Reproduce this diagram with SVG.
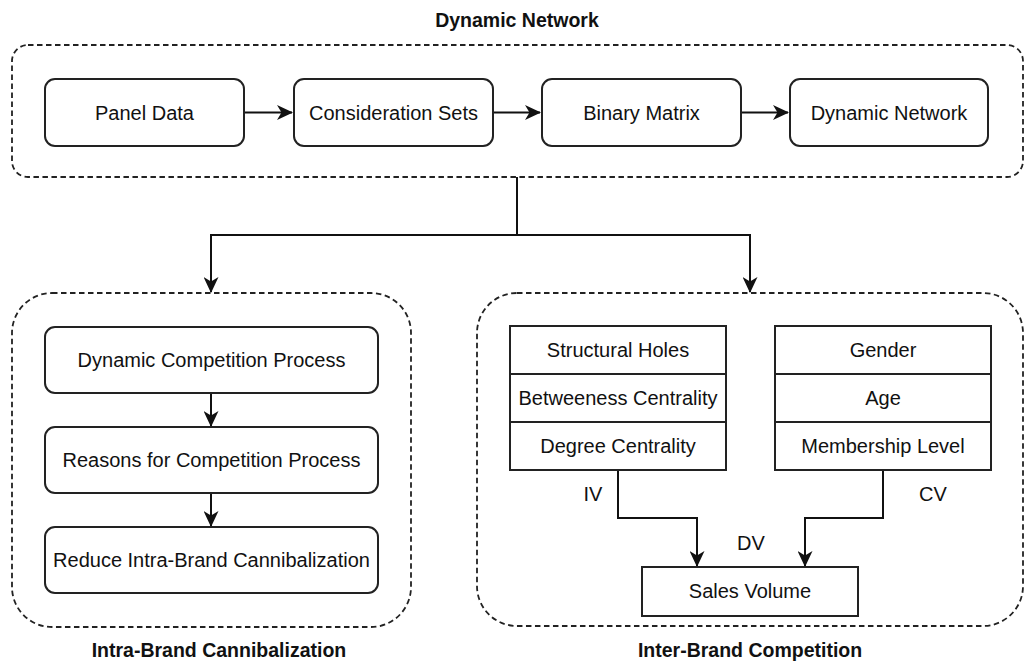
<svg xmlns="http://www.w3.org/2000/svg" width="1026" height="661" viewBox="0 0 1026 661">
<style>
text{font-family:"Liberation Sans",Arial,Helvetica,sans-serif;fill:#111;font-size:20px;text-anchor:middle}
.title{font-weight:bold;font-size:19.5px}
.cont{fill:none;stroke:#222;stroke-width:1.8;stroke-dasharray:5.5 3.5}
.box{fill:#fff;stroke:#222;stroke-width:2}
.conn{fill:none;stroke:#111;stroke-width:2}
</style>
<defs>
<marker id="arr" markerUnits="userSpaceOnUse" markerWidth="17" markerHeight="15" viewBox="0 0 17 15" refX="15" refY="7.5" orient="auto">
<path d="M0,0 L16,7.5 L0,15 L4.5,7.5 z" fill="#111"/>
</marker>
</defs>
<rect width="1026" height="661" fill="#fff"/>

<g id="container-dynamic-network">
<rect class="cont" x="12" y="45" width="1011" height="132" rx="16"/>
<text class="title" x="517" y="27">Dynamic Network</text>
</g>
<g id="container-intra">
<rect class="cont" x="12" y="293" width="399" height="334" rx="40"/>
<text class="title" x="219" y="657">Intra-Brand Cannibalization</text>
</g>
<g id="container-inter">
<rect class="cont" x="477" y="293" width="546" height="333" rx="40"/>
<text class="title" x="750" y="657">Inter-Brand Competition</text>
</g>

<g id="connectors">
<path class="conn" d="M244,112.5 H292" marker-end="url(#arr)"/>
<path class="conn" d="M493,112.5 H540" marker-end="url(#arr)"/>
<path class="conn" d="M741,112.5 H788" marker-end="url(#arr)"/>
<path class="conn" d="M517,177 V235 H211 V292" marker-end="url(#arr)"/>
<path class="conn" d="M517,235 H750 V292" marker-end="url(#arr)"/>
<path class="conn" d="M211,393 V426" marker-end="url(#arr)"/>
<path class="conn" d="M211,493 V526" marker-end="url(#arr)"/>
<path class="conn" d="M618,470 V518 H697 V566" marker-end="url(#arr)"/>
<path class="conn" d="M883,470 V518 H805 V566" marker-end="url(#arr)"/>
<text x="593" y="501">IV</text>
<text x="933" y="501">CV</text>
<text x="751" y="550">DV</text>
</g>

<g id="panel-data">
<rect class="box" x="45" y="79" width="199" height="67" rx="10"/>
<text x="144.5" y="119.5">Panel Data</text>
</g>
<g id="consideration-sets">
<rect class="box" x="294" y="79" width="199" height="67" rx="10"/>
<text x="393.5" y="119.5">Consideration Sets</text>
</g>
<g id="binary-matrix">
<rect class="box" x="542" y="79" width="199" height="67" rx="10"/>
<text x="641.5" y="119.5">Binary Matrix</text>
</g>
<g id="dynamic-network">
<rect class="box" x="790" y="79" width="198" height="67" rx="10"/>
<text x="889" y="119.5">Dynamic Network</text>
</g>

<g id="dynamic-competition-process">
<rect class="box" x="45" y="327" width="333" height="66" rx="10"/>
<text x="211.5" y="367">Dynamic Competition Process</text>
</g>
<g id="reasons-for-competition-process">
<rect class="box" x="45" y="427" width="333" height="66" rx="10"/>
<text x="211.5" y="467">Reasons for Competition Process</text>
</g>
<g id="reduce-intra-brand-cannibalization">
<rect class="box" x="45" y="527" width="333" height="66" rx="10"/>
<text x="211.5" y="567">Reduce Intra-Brand Cannibalization</text>
</g>

<g id="iv-table">
<rect class="box" x="510" y="326" width="216" height="144"/>
<line class="box" x1="510" y1="374" x2="726" y2="374"/>
<line class="box" x1="510" y1="422" x2="726" y2="422"/>
<text x="618" y="357">Structural Holes</text>
<text x="618" y="405">Betweeness Centrality</text>
<text x="618" y="453">Degree Centrality</text>
</g>
<g id="cv-table">
<rect class="box" x="775" y="326" width="216" height="144"/>
<line class="box" x1="775" y1="374" x2="991" y2="374"/>
<line class="box" x1="775" y1="422" x2="991" y2="422"/>
<text x="883" y="357">Gender</text>
<text x="883" y="405">Age</text>
<text x="883" y="453">Membership Level</text>
</g>
<g id="sales-volume">
<rect class="box" x="642" y="567" width="216" height="49"/>
<text x="750" y="598">Sales Volume</text>
</g>
</svg>
